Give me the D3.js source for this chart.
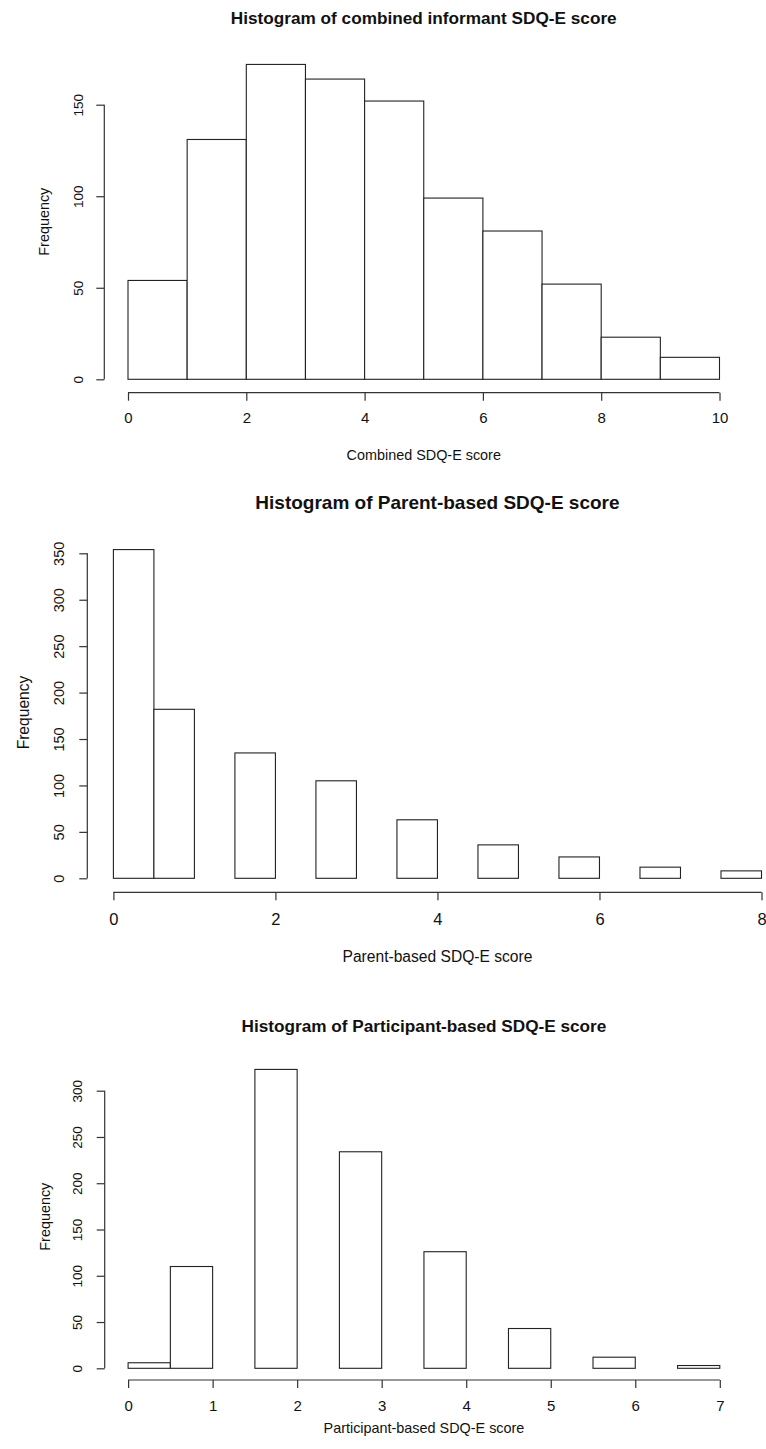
<!DOCTYPE html>
<html>
<head>
<meta charset="utf-8">
<script src="https://cdn.jsdelivr.net/npm/d3@7"></script>
<style>
  body { margin: 0; background: #fff; }
  svg text { font-family: "Liberation Sans", Arial, sans-serif; fill: #111; }
</style>
</head>
<body>
<div id="chart"></div>
<script>
// bin edges (left) and counts for each histogram
var combinedBreaks = [0, 1, 2, 3, 4, 5, 6, 7, 8, 9];
var combinedCounts = [54, 131, 172, 164, 152, 99, 81, 52, 23, 12];

var parentBreaks = [0, 0.5, 1, 1.5, 2, 2.5, 3, 3.5, 4, 4.5, 5, 5.5, 6, 6.5, 7, 7.5];
var parentCounts = [354, 182, 0, 135, 0, 105, 0, 63, 0, 36, 0, 23, 0, 12, 0, 8];

var partBreaks = [0, 0.5, 1, 1.5, 2, 2.5, 3, 3.5, 4, 4.5, 5, 5.5, 6, 6.5];
var partCounts = [6, 110, 0, 323, 0, 234, 0, 126, 0, 43, 0, 12, 0, 3];

var combinedXTicks = [0, 2, 4, 6, 8, 10];
var combinedYTicks = [0, 50, 100, 150];
var parentXTicks = [0, 2, 4, 6, 8];
var parentYTicks = [0, 50, 100, 150, 200, 250, 300, 350];
var partXTicks = [0, 1, 2, 3, 4, 5, 6, 7];
var partYTicks = [0, 50, 100, 150, 200, 250, 300];

var svg = d3.select("#chart").append("svg")
    .attr("width", 766)
    .attr("height", 1449);

// one panel = one base-R style histogram
function drawHist(p) {
  var g = svg.append("g");

  var x = d3.scaleLinear().domain(p.xDomain).range([p.left, p.right]);
  var y = d3.scaleLinear().domain(p.yDomain).range([p.bottom, p.top]);

  g.selectAll("rect")
    .data(p.breaks.map((b, i) => ({x0: b, x1: b + p.binWidth, n: p.counts[i]})))
    .join("rect")
      .attr("x", d => x(d.x0))
      .attr("y", d => y(d.n))
      .attr("width", d => x(d.x1) - x(d.x0))
      .attr("height", d => y(0) - y(d.n))
      .attr("fill", "#fff")
      .attr("stroke", "#222")
      .attr("stroke-width", 1.1);

  // x axis sits a little below the bars
  var xAxis = g.append("g")
      .attr("transform", `translate(0,${p.xAxisY})`)
      .call(d3.axisBottom(x).tickValues(p.xTicks).tickSize(8).tickSizeOuter(0).tickPadding(p.xPad)
        .tickFormat(d3.format("d")));
  xAxis.select(".domain").attr("stroke", "#333").attr("stroke-width", 1.2)
      .attr("d", `M${x(p.xTicks[0])},0H${x(p.xTicks[p.xTicks.length - 1])}`);
  xAxis.selectAll(".tick line").attr("stroke", "#333").attr("stroke-width", 1.2);
  xAxis.selectAll(".tick text").attr("font-size", p.xTickSize).attr("fill", "#111");

  var yAxis = g.append("g")
      .attr("transform", `translate(${p.yAxisX},0)`)
      .call(d3.axisLeft(y).tickValues(p.yTicks).tickSize(8).tickSizeOuter(0).tickFormat(d3.format("d")));
  yAxis.select(".domain").attr("stroke", "#333").attr("stroke-width", 1.2)
      .attr("d", `M0,${y(p.yTicks[0])}V${y(p.yTicks[p.yTicks.length - 1])}`);
  yAxis.selectAll(".tick line").attr("stroke", "#333").attr("stroke-width", 1.2);
  yAxis.selectAll(".tick text")
      .attr("font-size", p.yTickSize)
      .attr("fill", "#222")
      .attr("x", null)
      .attr("text-anchor", "middle")
      .attr("transform", `translate(${p.yTickOff},0) rotate(-90)`)
      .attr("dy", "0.35em");

  g.append("text")
    .attr("x", (p.left + p.right) / 2)
    .attr("y", p.titleY)
    .attr("text-anchor", "middle")
    .attr("font-size", p.titleSize)
    .attr("font-weight", "bold")
    .text(p.title);

  g.append("text")
    .attr("x", (p.left + p.right) / 2)
    .attr("y", p.xLabelY)
    .attr("text-anchor", "middle")
    .attr("font-size", p.labelSize)
    .text(p.xLabel);

  g.append("text")
    .attr("transform", `translate(${p.yLabelX},${p.yLabelCY}) rotate(-90)`)
    .attr("text-anchor", "middle")
    .attr("font-size", p.labelSize)
    .attr("fill", "#222")
    .text("Frequency");
}

drawHist({
  title: "Histogram of combined informant SDQ-E score",
  xLabel: "Combined SDQ-E score",
  breaks: combinedBreaks, counts: combinedCounts, binWidth: 1,
  xTicks: combinedXTicks, yTicks: combinedYTicks,
  xDomain: [0, 10], yDomain: [0, 150],
  left: 128, right: 719.5, bottom: 379.3, top: 104.7,
  xAxisY: 392.7, yAxisX: 104.3, xPad: 12, yTickOff: -26,
  titleSize: 17.2, labelSize: 14.4, xTickSize: 15, yTickSize: 13.6,
  titleY: 23.5, xLabelY: 460, yLabelX: 49, yLabelCY: 221.7
});

drawHist({
  title: "Histogram of Parent-based SDQ-E score",
  xLabel: "Parent-based SDQ-E score",
  breaks: parentBreaks, counts: parentCounts, binWidth: 0.5,
  xTicks: parentXTicks, yTicks: parentYTicks,
  xDomain: [0, 8], yDomain: [0, 350],
  left: 113.4, right: 761.5, bottom: 878.3, top: 553.3,
  xAxisY: 892.3, yAxisX: 87.3, xPad: 13, yTickOff: -28,
  titleSize: 19, labelSize: 15.6, xTickSize: 16.5, yTickSize: 14.5,
  titleY: 509, xLabelY: 961.5, yLabelX: 28.5, yLabelCY: 712.5
});

drawHist({
  title: "Histogram of Participant-based SDQ-E score",
  xLabel: "Participant-based SDQ-E score",
  breaks: partBreaks, counts: partCounts, binWidth: 0.5,
  xTicks: partXTicks, yTicks: partYTicks,
  xDomain: [0, 7], yDomain: [0, 300],
  left: 128.1, right: 719.8, bottom: 1368.3, top: 1090.7,
  xAxisY: 1380, yAxisX: 104.7, xPad: 12.5, yTickOff: -27,
  titleSize: 17.2, labelSize: 14.4, xTickSize: 15, yTickSize: 13.6,
  titleY: 1032, xLabelY: 1432.5, yLabelX: 50, yLabelCY: 1216.7
});
</script>
</body>
</html>
